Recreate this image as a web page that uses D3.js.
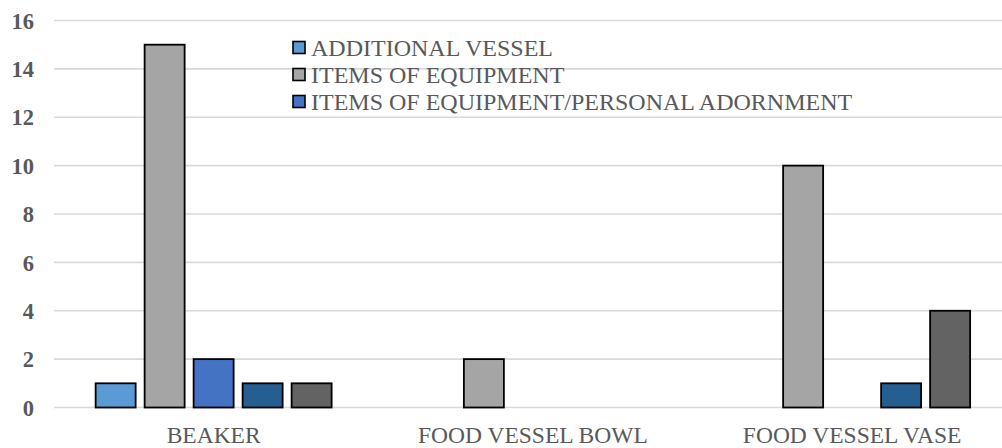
<!DOCTYPE html>
<html>
<head>
<meta charset="utf-8">
<script src="https://cdn.jsdelivr.net/npm/d3@7"></script>
<style>
  html, body { margin: 0; padding: 0; background: #fff; }
  svg { display: block; }
</style>
</head>
<body>
<svg id="chart" width="1002" height="448"></svg>
<script>
// Grave-good categories and the counts per type of find
const categories = ["BEAKER", "FOOD VESSEL BOWL", "FOOD VESSEL VASE"];
const seriesNames = [
  "ADDITIONAL VESSEL",
  "ITEMS OF EQUIPMENT",
  "ITEMS OF EQUIPMENT/PERSONAL ADORNMENT",
  "PERSONAL ADORNMENT",
  "OTHER"
];
const additionalVessel   = [1, null, null];
const itemsOfEquipment   = [15, 2, 10];
const equipmentAdornment = [2, null, null];
const personalAdornment  = [1, null, 1];
const other              = [1, null, 4];
const yTicks = [0, 2, 4, 6, 8, 10, 12, 14, 16];
const colors = ["#5B9BD5", "#A5A5A5", "#4472C4", "#255E91", "#636363"];
const legendShown = 3;

const seriesValues = [additionalVessel, itemsOfEquipment, equipmentAdornment, personalAdornment, other];

const svg = d3.select("#chart");
const plotLeft = 54, plotRight = 1011.75, plotTop = 20.5, plotBottom = 407.5;
const font = "'Liberation Serif', 'Times New Roman', serif";
const textColor = "#595959";

const y = d3.scaleLinear().domain([0, 16]).range([plotBottom, plotTop]);
const x0 = d3.scaleBand().domain(categories).range([plotLeft, plotRight]).padding(0);
const x1 = d3.scaleBand().domain(seriesNames).range([-118, 118])
  .paddingInner(9 / 49).paddingOuter(0);

// Horizontal gridlines
svg.append("g")
  .selectAll("line")
  .data(yTicks)
  .join("line")
  .attr("x1", plotLeft).attr("x2", 1002)
  .attr("y1", d => y(d)).attr("y2", d => y(d))
  .attr("stroke", "#d9d9d9").attr("stroke-width", 1.6);

// Y axis labels
const yAxis = d3.axisLeft(y).tickValues(yTicks).tickSize(0).tickPadding(0);
const yg = svg.append("g").attr("transform", "translate(34,0)").call(yAxis);
yg.select(".domain").remove();
yg.selectAll("text")
  .attr("font-family", font).attr("font-size", 22.5).attr("font-weight", "bold")
  .attr("fill", textColor).attr("dy", "0.34em");

// X axis labels
const xAxis = d3.axisBottom(x0).tickSize(0).tickPadding(0);
const xg = svg.append("g").attr("transform", `translate(0,${plotBottom})`).call(xAxis);
xg.select(".domain").remove();
xg.selectAll("text")
  .attr("font-family", font).attr("font-size", 23.5)
  .attr("fill", textColor).attr("dy", null).attr("y", 35.5);

// Bars
const barData = [];
categories.forEach((c, ci) => {
  seriesNames.forEach((s, si) => {
    const v = seriesValues[si][ci];
    if (v !== null && v !== undefined) barData.push({ c, s, si, v });
  });
});
svg.append("g")
  .selectAll("rect")
  .data(barData)
  .join("rect")
  .attr("x", d => x0(d.c) + x0.bandwidth() / 2 + x1(d.s))
  .attr("width", x1.bandwidth())
  .attr("y", d => y(d.v))
  .attr("height", d => y(0) - y(d.v))
  .attr("fill", d => colors[d.si])
  .attr("stroke", "#000").attr("stroke-width", 1.8);

// Legend
const legend = svg.append("g").attr("transform", "translate(293,47.5)");
const items = legend.selectAll("g")
  .data(seriesNames.slice(0, legendShown))
  .join("g")
  .attr("transform", (d, i) => `translate(0,${i * 27})`);
items.append("rect")
  .attr("x", 0).attr("y", -6).attr("width", 12).attr("height", 12)
  .attr("fill", (d, i) => colors[i])
  .attr("stroke", "#000").attr("stroke-width", 1.6);
items.append("text")
  .attr("x", 18).attr("y", 8)
  .attr("font-family", font).attr("font-size", 24)
  .attr("fill", textColor)
  .text(d => d);
</script>
</body>
</html>
